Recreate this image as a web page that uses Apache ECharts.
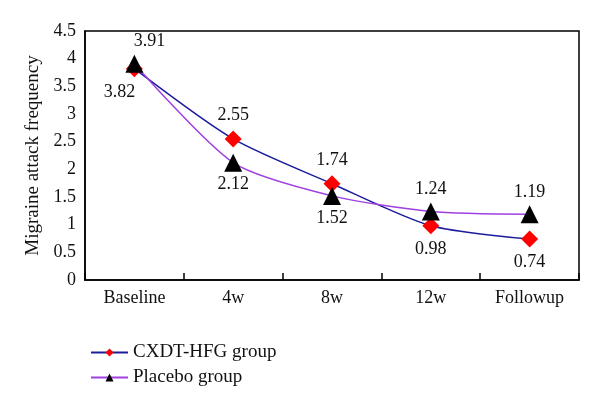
<!DOCTYPE html>
<html>
<head>
<meta charset="utf-8">
<script src="https://cdn.jsdelivr.net/npm/echarts@6/dist/echarts.min.js"></script>
<style>html,body{margin:0;padding:0;background:#fff}#c{width:600px;height:406px}</style>
</head>
<body>
<div id="c"></div>
<script>
var categories = ['Baseline', '4w', '8w', '12w', 'Followup'];
var cxdtValues = [3.82, 2.55, 1.74, 0.98, 0.74];
var placeboValues = [3.91, 2.12, 1.52, 1.24, 1.19];
var cxdtLabelPos = ['bottom', 'top', 'top', 'bottom', 'bottom'];
var placeboLabelPos = ['top', 'bottom', 'bottom', 'top', 'top'];
var yTicks = [0, 0.5, 1, 1.5, 2, 2.5, 3, 3.5, 4, 4.5];

var FONT = '"Liberation Serif", "DejaVu Serif", serif';

function buildData(vals, pos, offsets) {
  return vals.map(function (v, i) {
    return {
      value: v,
      label: { position: pos[i], offset: offsets[i] || [0, 0] }
    };
  });
}

var chart = echarts.init(document.getElementById('c'), null, { renderer: 'canvas' });
chart.setOption({
  animation: false,
  backgroundColor: '#fff',
  textStyle: { fontFamily: FONT },
  grid: { left: 85, top: 31, right: 21, bottom: 126, show: true, borderColor: '#000', borderWidth: 1.5 },
  legend: {
    left: 85, top: 338, orient: 'vertical', itemWidth: 37, itemHeight: 10, itemGap: 6,
    textStyle: { fontFamily: FONT, fontSize: 19, color: '#111' },
    data: ['CXDT-HFG group', 'Placebo group']
  },
  xAxis: {
    type: 'category', data: categories, boundaryGap: true,
    axisLine: { lineStyle: { color: '#000', width: 1.5 } },
    axisTick: { show: true, inside: true, length: 7, lineStyle: { color: '#000', width: 1.5 } },
    axisLabel: { fontFamily: FONT, fontSize: 18, color: '#111', margin: 9 }
  },
  yAxis: {
    type: 'value', min: yTicks[0], max: yTicks[yTicks.length - 1], interval: 0.5,
    name: 'Migraine attack frequency', nameLocation: 'middle', nameGap: 42, nameRotate: 90,
    nameTextStyle: { fontFamily: FONT, fontSize: 19, color: '#111' },
    axisLine: { show: true, lineStyle: { color: '#000', width: 1.5 } },
    axisTick: { show: false },
    splitLine: { show: false },
    axisLabel: { fontFamily: FONT, fontSize: 18, color: '#111', margin: 9 }
  },
  series: [
    {
      name: 'CXDT-HFG group', type: 'line', smooth: 0.25,
      data: buildData(cxdtValues, cxdtLabelPos, [[-15, 0]]),
      symbol: 'diamond', symbolSize: 17,
      itemStyle: { color: '#ff0000' },
      lineStyle: { color: '#1c1c9c', width: 1.5 },
      label: { show: true, fontFamily: FONT, fontSize: 18, color: '#111', distance: 6 },
      z: 3
    },
    {
      name: 'Placebo group', type: 'line', smooth: 0.25,
      data: buildData(placeboValues, placeboLabelPos, [[15, 0]]),
      symbol: 'triangle', symbolSize: 18,
      itemStyle: { color: '#000' },
      lineStyle: { color: '#a040e0', width: 1.5 },
      label: { show: true, fontFamily: FONT, fontSize: 18, color: '#111', distance: 4 },
      z: 4
    }
  ]
});
</script>
</body>
</html>
